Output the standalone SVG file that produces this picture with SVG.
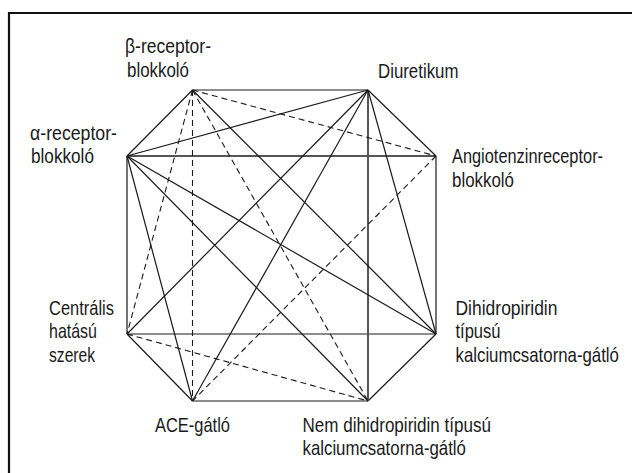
<svg xmlns="http://www.w3.org/2000/svg" width="632" height="473" viewBox="0 0 632 473">
<style>
.lbl{font-family:"Liberation Sans",Arial,sans-serif;font-size:20px;fill:#1a1a1a}
.s{stroke:#1a1a1a;stroke-width:1.2;fill:none}
.g{stroke:#555;stroke-width:2;fill:none}
.d{stroke:#1a1a1a;stroke-width:1.1;fill:none;stroke-dasharray:6 4}
</style>
<rect x="0" y="0" width="632" height="473" fill="#fff"/>
<path d="M9,473 V13 H632" stroke="#111" stroke-width="2.2" fill="none"/>
<g id="connectors">
<line class="s" x1="192.5" y1="90" x2="368" y2="90"/>
<line class="s" x1="368" y1="90" x2="436" y2="156"/>
<line class="s" x1="436" y1="156" x2="436" y2="334"/>
<line class="s" x1="436" y1="334" x2="368" y2="401"/>
<line class="s" x1="368" y1="401" x2="192.5" y2="401"/>
<line class="s" x1="192.5" y1="401" x2="127" y2="334"/>
<line class="s" x1="127" y1="334" x2="127" y2="156"/>
<line class="s" x1="127" y1="156" x2="192.5" y2="90"/>
<line class="g" x1="127" y1="156" x2="436" y2="156"/>
<line class="s" x1="127" y1="334" x2="436" y2="334"/>
<line class="g" x1="368" y1="90" x2="368" y2="401"/>
<line class="d" x1="192.5" y1="90" x2="192.5" y2="401"/>
<line class="d" x1="192.5" y1="90" x2="436" y2="156"/>
<line class="s" x1="192.5" y1="90" x2="436" y2="334"/>
<line class="d" x1="192.5" y1="90" x2="368" y2="401"/>
<line class="d" x1="192.5" y1="90" x2="127" y2="334"/>
<line class="s" x1="368" y1="90" x2="127" y2="156"/>
<line class="s" x1="368" y1="90" x2="127" y2="334"/>
<line class="s" x1="368" y1="90" x2="192.5" y2="401"/>
<line class="s" x1="368" y1="90" x2="436" y2="334"/>
<line class="s" x1="127" y1="156" x2="436" y2="334"/>
<line class="s" x1="127" y1="156" x2="368" y2="401"/>
<line class="s" x1="127" y1="156" x2="192.5" y2="401"/>
<line class="d" x1="436" y1="156" x2="192.5" y2="401"/>
<line class="d" x1="127" y1="334" x2="368" y2="401"/>
</g>
<g id="beta"><text class="lbl" transform="translate(125,52.5) scale(0.84,1)" textLength="102.4" lengthAdjust="spacingAndGlyphs">β-receptor-</text><text class="lbl" transform="translate(127,77) scale(0.84,1)" textLength="73.8" lengthAdjust="spacingAndGlyphs">blokkoló</text></g>
<g id="diuretikum"><text class="lbl" transform="translate(378,78) scale(0.84,1)" textLength="95.8" lengthAdjust="spacingAndGlyphs">Diuretikum</text></g>
<g id="alpha"><text class="lbl" transform="translate(30,140) scale(0.84,1)" textLength="103.6" lengthAdjust="spacingAndGlyphs">α-receptor-</text><text class="lbl" transform="translate(31,163) scale(0.84,1)" textLength="75" lengthAdjust="spacingAndGlyphs">blokkoló</text></g>
<g id="atr"><text class="lbl" transform="translate(452,163) scale(0.84,1)" textLength="179.8" lengthAdjust="spacingAndGlyphs">Angiotenzinreceptor-</text><text class="lbl" transform="translate(452,186.5) scale(0.84,1)" textLength="73.8" lengthAdjust="spacingAndGlyphs">blokkoló</text></g>
<g id="centralis"><text class="lbl" transform="translate(49,315) scale(0.84,1)" textLength="77.4" lengthAdjust="spacingAndGlyphs">Centrális</text><text class="lbl" transform="translate(49,338) scale(0.84,1)" textLength="57.1" lengthAdjust="spacingAndGlyphs">hatású</text><text class="lbl" transform="translate(49,362) scale(0.84,1)" textLength="54.8" lengthAdjust="spacingAndGlyphs">szerek</text></g>
<g id="dhp"><text class="lbl" transform="translate(455.5,315) scale(0.84,1)" textLength="121.4" lengthAdjust="spacingAndGlyphs">Dihidropiridin</text><text class="lbl" transform="translate(455.5,338) scale(0.84,1)" textLength="53.6" lengthAdjust="spacingAndGlyphs">típusú</text><text class="lbl" transform="translate(455.5,362) scale(0.84,1)" textLength="194.6" lengthAdjust="spacingAndGlyphs">kalciumcsatorna-gátló</text></g>
<g id="ace"><text class="lbl" transform="translate(155,432) scale(0.84,1)" textLength="89.3" lengthAdjust="spacingAndGlyphs">ACE-gátló</text></g>
<g id="ndhp"><text class="lbl" transform="translate(302.5,432) scale(0.84,1)" textLength="224.4" lengthAdjust="spacingAndGlyphs">Nem dihidropiridin típusú</text><text class="lbl" transform="translate(302.5,455) scale(0.84,1)" textLength="194.6" lengthAdjust="spacingAndGlyphs">kalciumcsatorna-gátló</text></g>
</svg>
